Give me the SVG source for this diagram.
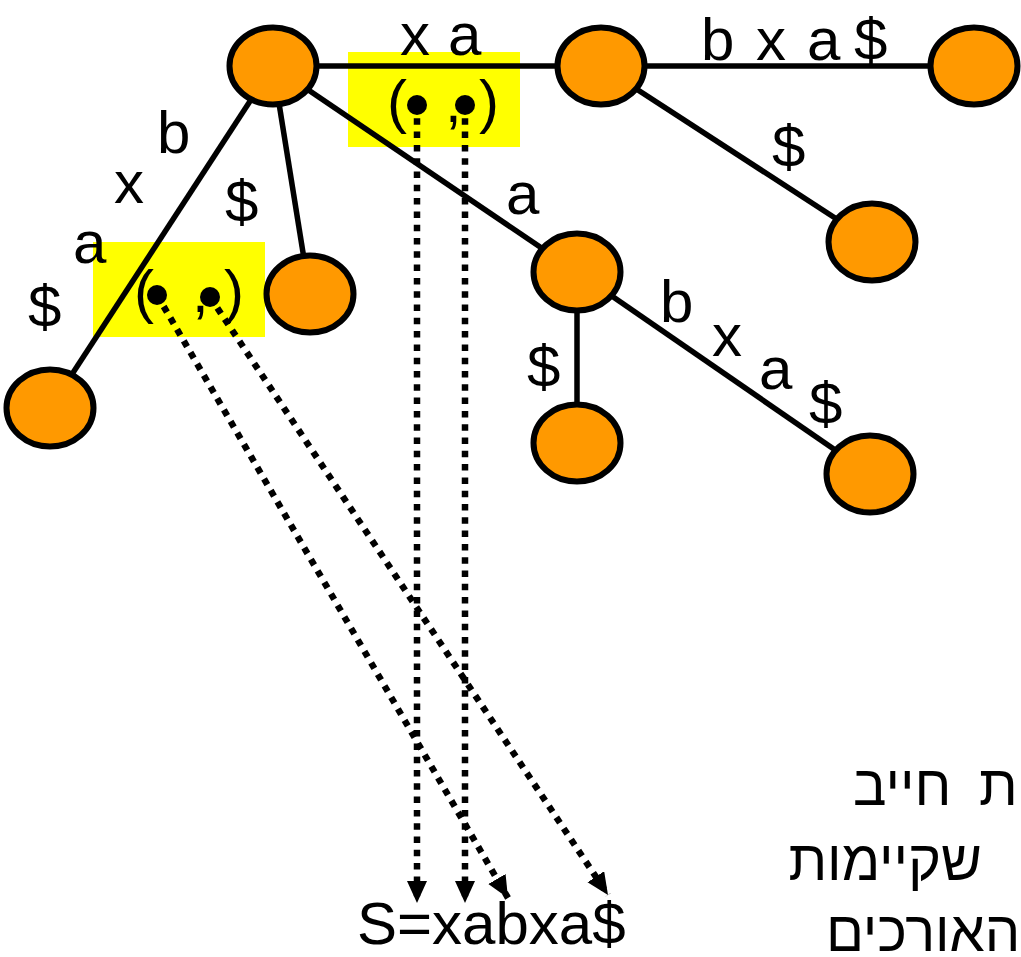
<svg xmlns="http://www.w3.org/2000/svg" width="1021" height="957" viewBox="0 0 1021 957">
<style>
.node{fill:#FF9900;stroke:#000;stroke-width:6}
.edge{stroke:#000;stroke-width:5.5;fill:none}
.ptr{stroke:#000;stroke-width:6.5;stroke-dasharray:6.5 6.8;fill:none}
.lbl{font-family:"Liberation Sans",Arial,sans-serif;font-size:60px;fill:#000}
.heb{font-family:"Liberation Sans","DejaVu Sans",sans-serif;font-size:56px;fill:#000}
.box{fill:#FFFF00}
</style>
<defs>
<marker id="ah" markerUnits="userSpaceOnUse" markerWidth="24" markerHeight="22" refX="22" refY="10" orient="auto">
<path d="M0,0 L22,10 L0,20 Z" fill="#000"/>
</marker>
</defs>
<rect width="1021" height="957" fill="#fff"/>
<g id="boxes">
<rect class="box" x="348" y="52" width="172" height="95"/>
<rect class="box" x="93" y="242" width="172" height="95"/>
</g>
<g id="connectors">
<line class="edge" x1="273" y1="66" x2="601" y2="66"/>
<line class="edge" x1="601" y1="66" x2="974" y2="66"/>
<line class="edge" x1="601" y1="66" x2="872" y2="242"/>
<line class="edge" x1="273" y1="66" x2="50" y2="408"/>
<line class="edge" x1="273" y1="66" x2="310" y2="296"/>
<line class="edge" x1="273" y1="66" x2="577" y2="272"/>
<line class="edge" x1="577" y1="272" x2="577" y2="443"/>
<line class="edge" x1="577" y1="272" x2="870" y2="474"/>
</g>
<g id="nodes">
<ellipse id="root" class="node" cx="273" cy="66" rx="43.5" ry="38.5"/>
<ellipse id="n_xa" class="node" cx="601" cy="66" rx="43.5" ry="38.5"/>
<ellipse id="n_xabxa" class="node" cx="974" cy="66" rx="43.5" ry="38.5"/>
<ellipse id="n_xa_end" class="node" cx="872" cy="242" rx="43.5" ry="38.5"/>
<ellipse id="n_a" class="node" cx="577" cy="272" rx="43.5" ry="38.5"/>
<ellipse id="n_a_end" class="node" cx="577" cy="443" rx="43.5" ry="38.5"/>
<ellipse id="n_abxa" class="node" cx="870" cy="474" rx="43.5" ry="38.5"/>
<ellipse id="n_end" class="node" cx="310" cy="294" rx="43.5" ry="38.5"/>
<ellipse id="n_bxa" class="node" cx="50" cy="408" rx="43.5" ry="38.5"/>
</g>
<g id="labels">
<text class="lbl" x="400" y="55">x</text>
<text class="lbl" x="448" y="55">a</text>
<text class="lbl" x="701" y="60">b</text>
<text class="lbl" x="756" y="60">x</text>
<text class="lbl" x="807" y="60">a</text>
<text class="lbl" x="854" y="60">$</text>
<text class="lbl" x="772" y="167">$</text>
<text class="lbl" x="157" y="153">b</text>
<text class="lbl" x="114" y="203">x</text>
<text class="lbl" x="73" y="263">a</text>
<text class="lbl" x="28" y="327">$</text>
<text class="lbl" x="225" y="222">$</text>
<text class="lbl" x="506" y="214">a</text>
<text class="lbl" x="660" y="322">b</text>
<text class="lbl" x="712" y="356">x</text>
<text class="lbl" x="759" y="389">a</text>
<text class="lbl" x="809" y="424">$</text>
<text class="lbl" x="527" y="387">$</text>
</g>
<g id="pointer_top">
<text class="lbl" x="387" y="122">(</text>
<text class="lbl" x="445" y="122">,</text>
<text class="lbl" x="479" y="122">)</text>
</g>
<g id="pointer_left">
<text class="lbl" x="134" y="312">(</text>
<text class="lbl" x="192" y="312">,</text>
<text class="lbl" x="224" y="312">)</text>
</g>
<g id="pointers">
<line class="ptr" x1="417" y1="105" x2="417" y2="903" marker-end="url(#ah)"/>
<line class="ptr" x1="465" y1="105" x2="465" y2="903" marker-end="url(#ah)"/>
<line class="ptr" x1="157" y1="295" x2="508" y2="898" marker-end="url(#ah)"/>
<line class="ptr" x1="210" y1="297" x2="608" y2="895" marker-end="url(#ah)"/>
<circle cx="417" cy="105" r="10" fill="#000"/>
<circle cx="465" cy="105" r="10" fill="#000"/>
<circle cx="157" cy="295" r="10" fill="#000"/>
<circle cx="210" cy="297" r="10" fill="#000"/>
</g>
<g id="string">
<text class="lbl" x="357" y="944">S=xabxa$</text>
</g>
<g id="hebrew">
<text class="heb" x="853" y="805" word-spacing="12">ת חייב</text>
<text class="heb" x="982" y="880" text-anchor="end">שקיימות</text>
<text class="heb" x="826" y="951">האורכים</text>
</g>
</svg>
